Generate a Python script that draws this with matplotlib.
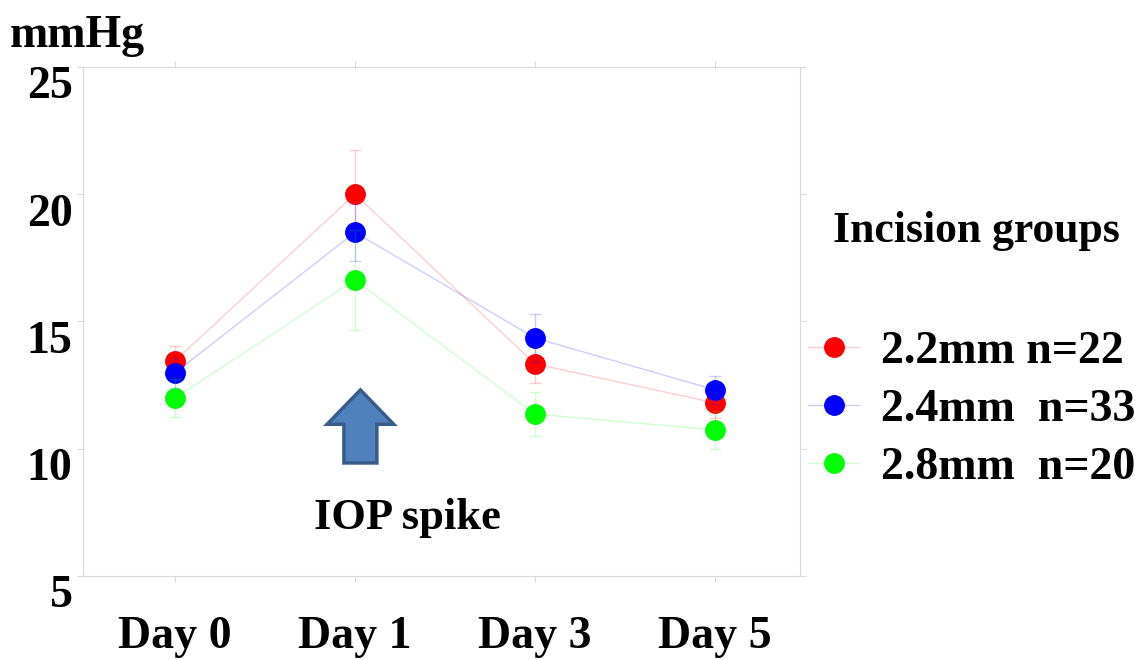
import matplotlib
matplotlib.use('Agg')
import matplotlib.pyplot as plt
import matplotlib.transforms as mtransforms
from matplotlib.colors import to_rgb
from matplotlib.patches import FancyArrow
import numpy as np

# IOP by incision group
days = ['Day 0', 'Day 1', 'Day 3', 'Day 5']
groups = ['2.2mm n=22', '2.4mm  n=33', '2.8mm  n=20']
colors = ['#ff0000', '#0000ff', '#00ff00']

iop_22 = [13.45, 20.0, 13.33, 11.8]
iop_24 = [12.98, 18.5, 14.35, 12.31]
iop_28 = [11.99, 16.63, 11.36, 10.74]

err_22 = [0.6, 1.74, 0.75, 0.6]
err_24 = [0.6, 1.12, 0.95, 0.55]
err_28 = [0.74, 1.96, 0.86, 0.75]

plt.rcParams['font.family'] = ['Liberation Serif', 'DejaVu Serif']
plt.rcParams['font.weight'] = 'bold'

fig = plt.figure(figsize=(11.35, 6.6), dpi=100)
ax = fig.add_axes([0.0731, 0.1273, 0.6317, 0.7712])

x = np.arange(len(days))
for vals, errs, c in zip([iop_22, iop_24, iop_28], [err_22, err_24, err_28], colors):
    ax.errorbar(x, vals, yerr=errs, fmt='none', ecolor=c, alpha=0.2, elinewidth=1, capsize=4)
    ax.plot(x, vals, '-', color=c, alpha=0.2, lw=1)
    ax.plot(x, vals, 'o', color=c, markersize=14)

ax.set_xlim(-0.51, 3.47)
ax.set_ylim(5, 25)
ax.set_yticks([5, 10, 15, 20, 25])
ax.set_xticks(x)
ax.set_xticklabels(days)

for s in ax.spines.values():
    s.set_color('#d9d9d9')
ax.tick_params(colors='#d9d9d9', labelcolor='black', labelsize=33, length=4)
ax.tick_params(axis='x', pad=25, top=True)
ax.tick_params(axis='y', right=True, pad=3.5)
# y labels sit a bit below their ticks in the original
shift = mtransforms.ScaledTranslation(0, -11 / 72, fig.dpi_scale_trans)
for t in ax.get_yticklabels():
    t.set_transform(t.get_transform() + shift)
for t in ax.get_xticklabels() + ax.get_yticklabels():
    t.set_fontweight('bold')

# "IOP spike" arrow
ax.add_patch(FancyArrow(1.03, 9.44, 0, 2.87, width=0.183, head_width=0.37,
                        head_length=1.35, length_includes_head=True,
                        facecolor='#4f81bd', edgecolor='#385d8a', lw=2.5))
ax.text(1.29, 7.28, 'IOP spike', ha='center', va='center', fontsize=32, fontweight='bold')

fig.text(0.009, 0.9288, 'mmHg', fontsize=33, fontweight='bold', ha='left', va='baseline')
fig.text(0.734, 0.6333, 'Incision groups', fontsize=31.5, fontweight='bold', ha='left', va='baseline')

# key: faint line with a solid dot
handles = [plt.Line2D([0], [0], color=(*to_rgb(c), 0.2), lw=1, marker='o', markersize=14,
                      markerfacecolor=c, markeredgecolor=c) for c in colors]
leg = ax.legend(handles=handles, labels=groups, loc='upper left', bbox_to_anchor=(0.696, 0.526),
                bbox_transform=fig.transFigure, frameon=False, fontsize=33,
                handlelength=1.1, labelspacing=0.34, handletextpad=0.48, borderaxespad=0)
for t in leg.get_texts():
    t.set_fontweight('bold')

fig.savefig('out.png', dpi=100)
